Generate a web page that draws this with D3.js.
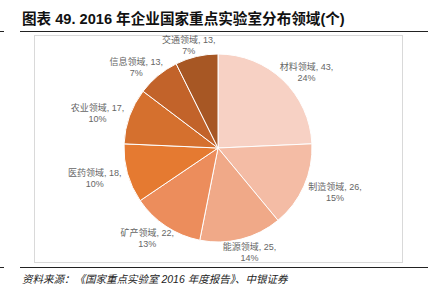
<!DOCTYPE html>
<html>
<head>
<meta charset="utf-8">
<script src="https://cdn.jsdelivr.net/npm/d3@7"></script>
<style>
  body { margin: 0; background: #fff; }
  svg { display: block; font-family: "Liberation Sans", "Noto Sans CJK SC", sans-serif; }
</style>
</head>
<body>
<script>
var names = ["材料领域", "制造领域", "能源领域", "矿产领域", "医药领域", "农业领域", "信息领域", "交通领域"];
var counts = [43, 26, 25, 22, 18, 17, 13, 13];
var shares = ["24%", "15%", "14%", "13%", "10%", "10%", "7%", "7%"];
var colors = ["#f7d1c4", "#f4bca5", "#f0a988", "#ec8d5c", "#e57a31", "#d5702e", "#c2632a", "#a75724"];

var W = 429, H = 302;
var svg = d3.select("body").append("svg")
  .attr("width", W)
  .attr("height", H);

// title
svg.append("text")
  .attr("x", 22)
  .attr("y", 24)
  .style("font-size", "14.6px")
  .style("font-weight", "bold")
  .attr("fill", "#111")
  .text("图表 49. 2016 年企业国家重点实验室分布领域(个)");

svg.append("line").attr("x1", 20).attr("x2", 428).attr("y1", 31.5).attr("y2", 31.5)
  .attr("stroke", "#222").attr("stroke-width", 1.2);
svg.append("line").attr("x1", 0).attr("x2", 4).attr("y1", 31.5).attr("y2", 31.5)
  .attr("stroke", "#222").attr("stroke-width", 1);

// chart frame
svg.append("rect")
  .attr("x", 34.5).attr("y", 35.5)
  .attr("width", 368).attr("height", 227)
  .attr("fill", "none").attr("stroke", "#d9d9d9");

var cx = 218, cy = 148, r = 94;
var g = svg.append("g").attr("transform", "translate(" + cx + "," + cy + ")");

var data = names.map(function(n, i) {
  return { name: n, count: counts[i], share: shares[i], color: colors[i] };
});

var pie = d3.pie().sort(null).value(function(d) { return d.count; });
var arc = d3.arc().innerRadius(0).outerRadius(r);
var arcs = pie(data);

g.selectAll(".slice")
  .data(arcs)
  .enter().append("path")
  .attr("class", "slice")
  .attr("d", arc)
  .attr("fill", function(d) { return d.data.color; })
  .attr("stroke", "#fff")
  .attr("stroke-width", 1);

// labels, pushed outward off the rim
var bw = 60, bh = 17, gap = 4;
var lab = g.selectAll(".lab")
  .data(arcs)
  .enter().append("text")
  .attr("class", "lab")
  .attr("text-anchor", "middle")
  .style("font-size", "9px")
  .attr("fill", "#666")
  .attr("transform", function(d) {
    var a = (d.startAngle + d.endAngle) / 2;
    var s = Math.sin(a), c = Math.cos(a);
    var x = (r + gap) * s + s * bw / 2;
    var y = -(r + gap) * c - c * bh / 2;
    return "translate(" + x + "," + y + ")";
  });
lab.append("tspan").attr("x", 0).attr("dy", "-0.1em")
  .text(function(d) { return d.data.name + ", " + d.data.count + ","; });
lab.append("tspan").attr("x", 0).attr("dy", "1.2em")
  .text(function(d) { return d.data.share; });

// footer
svg.append("line").attr("x1", 20).attr("x2", 428).attr("y1", 267.5).attr("y2", 267.5)
  .attr("stroke", "#222").attr("stroke-width", 1.2);
svg.append("line").attr("x1", 0).attr("x2", 4).attr("y1", 267.5).attr("y2", 267.5)
  .attr("stroke", "#222").attr("stroke-width", 1);

svg.append("text")
  .attr("x", 22)
  .attr("y", 283)
  .style("font-size", "10.5px")
  .style("font-style", "italic")
  .attr("fill", "#222")
  .text("资料来源：《国家重点实验室 2016 年度报告》、中银证券");
</script>
</body>
</html>
